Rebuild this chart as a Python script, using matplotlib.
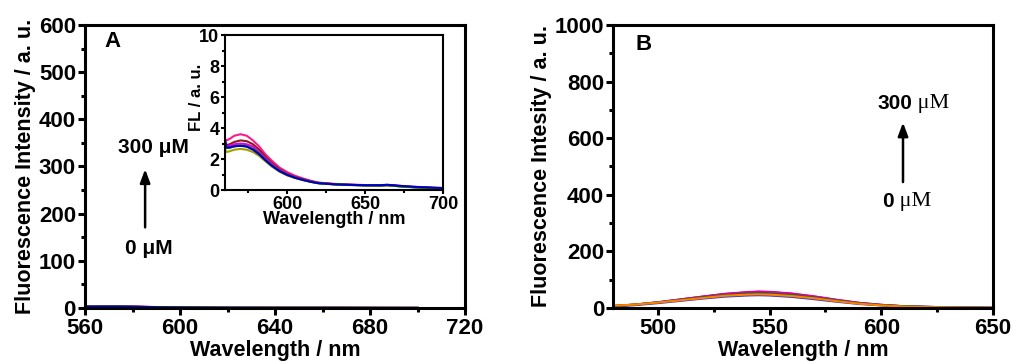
import matplotlib
matplotlib.use("Agg")
import matplotlib.pyplot as plt
from matplotlib.ticker import MultipleLocator

plt.rcParams['font.family'] = ['Liberation Sans', 'DejaVu Sans']
plt.rcParams['font.weight'] = 'bold'
plt.rcParams['axes.labelweight'] = 'bold'

# panel A / inset data (weak emission, 560-700 nm)
wl_a = [560, 561, 563, 566, 570, 574, 578, 582, 586, 590, 595, 600, 605, 610, 615, 620,
        630, 640, 650, 660, 664, 668, 675, 685, 700]
fl_pink = [3.3, 3.2, 3.3, 3.5, 3.6, 3.5, 3.2, 2.8, 2.3, 1.9, 1.45, 1.15, 0.92, 0.75, 0.6, 0.48,
           0.4, 0.35, 0.32, 0.3, 0.33, 0.3, 0.24, 0.18, 0.12]
fl_wine = [3.1, 2.9, 2.95, 3.1, 3.2, 3.15, 2.95, 2.6, 2.15, 1.75, 1.35, 1.05, 0.85, 0.7, 0.56, 0.46,
           0.38, 0.34, 0.31, 0.29, 0.32, 0.28, 0.22, 0.17, 0.1]
fl_magenta = [3.0, 2.8, 2.85, 2.95, 3.0, 2.95, 2.8, 2.45, 2.05, 1.68, 1.3, 1.02, 0.83, 0.68, 0.55, 0.45,
              0.37, 0.33, 0.3, 0.29, 0.32, 0.28, 0.22, 0.16, 0.1]
fl_green = [2.9, 2.7, 2.72, 2.82, 2.88, 2.82, 2.65, 2.35, 1.95, 1.6, 1.25, 0.98, 0.8, 0.66, 0.54, 0.44,
            0.37, 0.33, 0.3, 0.29, 0.31, 0.28, 0.22, 0.16, 0.1]
fl_olive = [2.6, 2.45, 2.5, 2.6, 2.65, 2.6, 2.45, 2.2, 1.85, 1.52, 1.18, 0.94, 0.77, 0.64, 0.52, 0.43,
            0.36, 0.32, 0.29, 0.28, 0.3, 0.27, 0.21, 0.15, 0.09]
fl_blue = [3.3, 2.75, 2.75, 2.82, 2.85, 2.8, 2.6, 2.3, 1.92, 1.57, 1.22, 0.97, 0.79, 0.65, 0.53, 0.44,
           0.37, 0.33, 0.31, 0.31, 0.34, 0.31, 0.25, 0.19, 0.13]
series_a = [fl_pink, fl_wine, fl_magenta, fl_olive, fl_green, fl_blue]
colors_a = ['#FF1A8C', '#8B1A1A', '#E000E0', '#A0A000', '#008000', '#0000C0']

# panel B data (480-650 nm)
wl_b = [480, 490, 500, 510, 520, 530, 540, 545, 550, 560, 570, 580, 590, 600, 610, 620, 630, 640, 650]
fl_b_blue = [5, 10, 17, 25, 33, 40, 44, 45, 44, 39, 31, 22, 14, 9, 5, 3, 2, 1, 0.5]
fl_b_purple = [6, 12, 20, 30, 40, 49, 55, 57, 56, 50, 40, 28, 18, 11, 6, 4, 2, 1, 0.5]
fl_b_magenta = [7, 12, 20, 30, 40, 50, 56, 58, 57, 51, 41, 29, 18, 11, 6, 4, 2, 1, 0.5]
fl_b_green = [7, 12, 19, 28, 37, 45, 50, 51, 50, 45, 36, 26, 16, 10, 6, 4, 2, 1, 0.5]
fl_b_orange = [8, 12, 19, 27, 35, 43, 47, 48, 47, 42, 34, 24, 15, 9, 5, 3, 2, 1, 0.5]
series_b = [fl_b_blue, fl_b_purple, fl_b_magenta, fl_b_green, fl_b_orange]
colors_b = ['#3030E0', '#8000A0', '#E000A0', '#008000', '#FF8000']


def style_axis(ax, size, lw=2.2):
    for s in ax.spines.values():
        s.set_linewidth(lw)
    ax.tick_params(which='both', direction='out', top=False, right=False, labelsize=size, width=lw)
    ax.tick_params(which='major', length=5)
    ax.tick_params(which='minor', length=3)


fig = plt.figure(figsize=(10.17, 3.64), dpi=100)

# panel A
axA = fig.add_axes([0.0836, 0.154, 0.3737, 0.7775])
for y, c in zip(series_a, colors_a):
    axA.plot(wl_a, y, color=c, lw=1.5)
axA.set_xlim(560, 720)
axA.set_ylim(0, 600)
axA.xaxis.set_major_locator(MultipleLocator(40))
axA.xaxis.set_minor_locator(MultipleLocator(20))
axA.yaxis.set_major_locator(MultipleLocator(100))
axA.yaxis.set_minor_locator(MultipleLocator(50))
style_axis(axA, 16)
axA.tick_params(axis='y', pad=1.5)
axA.tick_params(axis='x', pad=2.5)
axA.set_xlabel('Wavelength / nm', fontsize=15.5, labelpad=0.5)
axA.set_ylabel('Fluorescence Intensity / a. u.', fontsize=15.5, labelpad=2)
axA.text(0.05, 0.94, 'A', transform=axA.transAxes, fontsize=16, fontweight='bold', va='center')
axA.annotate('', xy=(585.3, 300), xytext=(585.3, 165),
             arrowprops=dict(arrowstyle='-|>,head_width=0.3,head_length=0.8', color='black', lw=1.8))
axA.text(589, 341, '300 μM', fontsize=15, fontweight='bold', ha='center', va='center')
axA.text(587, 127, '0 μM', fontsize=15, fontweight='bold', ha='center', va='center')

# inset
axI = fig.add_axes([0.2212, 0.478, 0.2144, 0.4258])
for y, c in zip(series_a, colors_a):
    axI.plot(wl_a, y, color=c, lw=1.5)
axI.set_xlim(560, 700)
axI.set_ylim(0, 10)
axI.xaxis.set_major_locator(MultipleLocator(50))
axI.xaxis.set_minor_locator(MultipleLocator(25))
axI.yaxis.set_major_locator(MultipleLocator(2))
axI.yaxis.set_minor_locator(MultipleLocator(1))
style_axis(axI, 13, lw=1.5)
axI.tick_params(which='major', length=3)
axI.tick_params(which='minor', length=2)
axI.tick_params(axis='both', pad=1)
axI.set_xlabel('Wavelength / nm', fontsize=13, labelpad=-1)
axI.set_ylabel('FL / a. u.', fontsize=12, labelpad=0)
axI.yaxis.set_label_coords(-0.095, 0.6)

# panel B
axB = fig.add_axes([0.6028, 0.154, 0.3737, 0.7775])
for y, c in zip(series_b, colors_b):
    axB.plot(wl_b, y, color=c, lw=1.5)
axB.set_xlim(480, 650)
axB.set_ylim(0, 1000)
axB.set_xticks([500, 550, 600, 650])
axB.xaxis.set_minor_locator(MultipleLocator(25))
axB.yaxis.set_major_locator(MultipleLocator(200))
axB.yaxis.set_minor_locator(MultipleLocator(100))
style_axis(axB, 16)
axB.tick_params(axis='y', pad=1.5)
axB.tick_params(axis='x', pad=2.5)
axB.set_xlabel('Wavelength / nm', fontsize=15.5, labelpad=0.5)
axB.set_ylabel('Fluorescence Intesity / a. u.', fontsize=15.5, labelpad=2)
axB.text(0.06, 0.93, 'B', transform=axB.transAxes, fontsize=16, fontweight='bold', va='center')
axB.annotate('', xy=(609.7, 665), xytext=(609.7, 435),
             arrowprops=dict(arrowstyle='-|>,head_width=0.3,head_length=0.8', color='black', lw=1.8))
t1 = axB.text(606, 724, '300', fontsize=15, fontweight='bold', ha='center', va='center')
axB.annotate(' μM', xy=(1, 0), xycoords=t1, fontsize=16, fontfamily='Liberation Serif',
             fontweight='normal', va='bottom')
t2 = axB.text(603, 375, '0', fontsize=15, fontweight='bold', ha='center', va='center')
axB.annotate(' μM', xy=(1, 0), xycoords=t2, fontsize=16, fontfamily='Liberation Serif',
             fontweight='normal', va='bottom')

fig.savefig('out.png', dpi=100)
